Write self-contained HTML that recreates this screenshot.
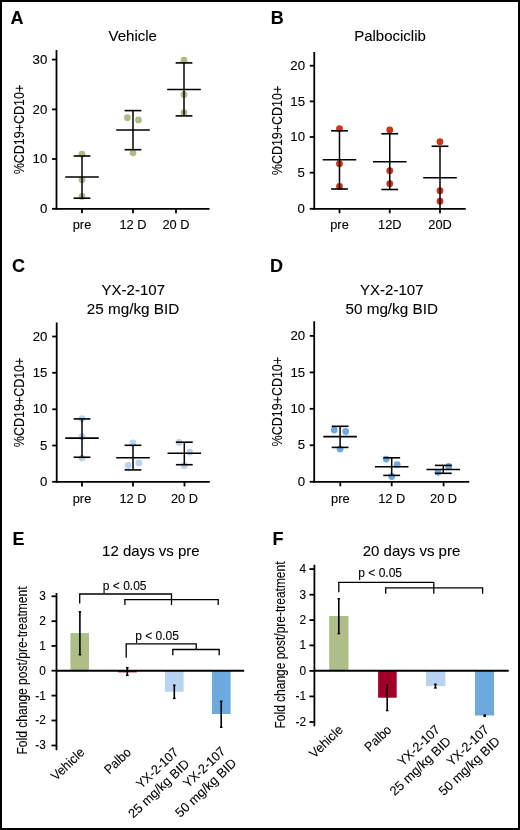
<!DOCTYPE html><html><head><meta charset="utf-8"><style>html,body{margin:0;padding:0;background:#fff}svg{display:block;will-change:transform;font-family:"Liberation Sans",sans-serif}text{stroke:#000;stroke-width:0.1px}</style></head><body>
<svg width="520" height="830" viewBox="0 0 520 830">
<rect x="0" y="0" width="520" height="830" fill="#fff"/>
<text x="132.75" y="41.3" font-size="15" text-anchor="middle" >Vehicle</text>
<text x="10.5" y="23.6" font-size="18" font-weight="bold">A</text>
<text x="0" y="0" font-size="15" text-anchor="middle" textLength="89.5" lengthAdjust="spacingAndGlyphs" transform="translate(24.0,129.55) rotate(-90)">%CD19+CD10+</text>
<circle cx="82" cy="154.2" r="3.4" fill="#adbd87"/>
<circle cx="82" cy="179.8" r="3.4" fill="#adbd87"/>
<circle cx="82" cy="196.5" r="3.4" fill="#adbd87"/>
<circle cx="127.4" cy="117.7" r="3.4" fill="#adbd87"/>
<circle cx="138.5" cy="119.9" r="3.4" fill="#adbd87"/>
<circle cx="133" cy="152.8" r="3.4" fill="#adbd87"/>
<circle cx="184" cy="60.25" r="3.4" fill="#adbd87"/>
<circle cx="184" cy="94.6" r="3.4" fill="#adbd87"/>
<circle cx="184" cy="112.75" r="3.4" fill="#adbd87"/>
<line x1="56.5" y1="50" x2="56.5" y2="209.70000000000002" stroke="#000" stroke-width="1.8"/>
<line x1="55.6" y1="208.8" x2="209.5" y2="208.8" stroke="#000" stroke-width="1.8"/>
<line x1="52.0" y1="208.8" x2="56.5" y2="208.8" stroke="#000" stroke-width="1.8"/>
<text x="0" y="0" font-size="12.5" text-anchor="end" transform="translate(47.3,212.9) scale(1.06,1)" >0</text>
<line x1="52.0" y1="159.0" x2="56.5" y2="159.0" stroke="#000" stroke-width="1.8"/>
<text x="0" y="0" font-size="12.5" text-anchor="end" transform="translate(47.3,163.1) scale(1.06,1)" >10</text>
<line x1="52.0" y1="109.4" x2="56.5" y2="109.4" stroke="#000" stroke-width="1.8"/>
<text x="0" y="0" font-size="12.5" text-anchor="end" transform="translate(47.3,113.5) scale(1.06,1)" >20</text>
<line x1="52.0" y1="59.6" x2="56.5" y2="59.6" stroke="#000" stroke-width="1.8"/>
<text x="0" y="0" font-size="12.5" text-anchor="end" transform="translate(47.3,63.7) scale(1.06,1)" >30</text>
<line x1="82" y1="208.8" x2="82" y2="213.3" stroke="#000" stroke-width="1.8"/>
<text x="0" y="0" font-size="12" text-anchor="middle" transform="translate(82,228.7) scale(1.07,1)" >pre</text>
<line x1="133" y1="208.8" x2="133" y2="213.3" stroke="#000" stroke-width="1.8"/>
<text x="0" y="0" font-size="12" text-anchor="middle" transform="translate(133,228.7) scale(1.07,1)" >12 D</text>
<line x1="176" y1="208.8" x2="176" y2="213.3" stroke="#000" stroke-width="1.8"/>
<text x="0" y="0" font-size="12" text-anchor="middle" transform="translate(176,228.7) scale(1.07,1)" >20 D</text>
<line x1="65.2" y1="177" x2="98.8" y2="177" stroke="#000" stroke-width="1.6"/>
<line x1="82" y1="156" x2="82" y2="198.2" stroke="#000" stroke-width="1.5"/>
<line x1="73.6" y1="156" x2="90.4" y2="156" stroke="#000" stroke-width="1.6"/>
<line x1="73.6" y1="198.2" x2="90.4" y2="198.2" stroke="#000" stroke-width="1.6"/>
<line x1="116.2" y1="130" x2="149.8" y2="130" stroke="#000" stroke-width="1.6"/>
<line x1="133" y1="110.6" x2="133" y2="149.7" stroke="#000" stroke-width="1.5"/>
<line x1="124.6" y1="110.6" x2="141.4" y2="110.6" stroke="#000" stroke-width="1.6"/>
<line x1="124.6" y1="149.7" x2="141.4" y2="149.7" stroke="#000" stroke-width="1.6"/>
<line x1="167.2" y1="89.5" x2="200.8" y2="89.5" stroke="#000" stroke-width="1.6"/>
<line x1="184" y1="62.9" x2="184" y2="115.9" stroke="#000" stroke-width="1.5"/>
<line x1="175.6" y1="62.9" x2="192.4" y2="62.9" stroke="#000" stroke-width="1.6"/>
<line x1="175.6" y1="115.9" x2="192.4" y2="115.9" stroke="#000" stroke-width="1.6"/>
<text x="390" y="40.9" font-size="15" text-anchor="middle" >Palbociclib</text>
<text x="270.7" y="23.6" font-size="18" font-weight="bold">B</text>
<text x="0" y="0" font-size="15" text-anchor="middle" textLength="89.5" lengthAdjust="spacingAndGlyphs" transform="translate(281.8,130.45) rotate(-90)">%CD19+CD10+</text>
<circle cx="339.5" cy="128.7" r="3.4" fill="#c9361a"/>
<circle cx="339.5" cy="163.75" r="3.4" fill="#c9361a"/>
<circle cx="339.5" cy="186.5" r="3.4" fill="#c9361a"/>
<circle cx="389.75" cy="130" r="3.4" fill="#c9361a"/>
<circle cx="389.75" cy="170.75" r="3.4" fill="#c9361a"/>
<circle cx="389.75" cy="183.75" r="3.4" fill="#c9361a"/>
<circle cx="440" cy="141.75" r="3.4" fill="#c9361a"/>
<circle cx="440" cy="190.75" r="3.4" fill="#c9361a"/>
<circle cx="440" cy="201.25" r="3.4" fill="#c9361a"/>
<line x1="314.25" y1="52" x2="314.25" y2="209.70000000000002" stroke="#000" stroke-width="1.8"/>
<line x1="313.35" y1="208.8" x2="465.75" y2="208.8" stroke="#000" stroke-width="1.8"/>
<line x1="309.75" y1="208.8" x2="314.25" y2="208.8" stroke="#000" stroke-width="1.8"/>
<text x="0" y="0" font-size="12.5" text-anchor="end" transform="translate(305,212.9) scale(1.06,1)" >0</text>
<line x1="309.75" y1="172.7" x2="314.25" y2="172.7" stroke="#000" stroke-width="1.8"/>
<text x="0" y="0" font-size="12.5" text-anchor="end" transform="translate(305,176.79999999999998) scale(1.06,1)" >5</text>
<line x1="309.75" y1="137.0" x2="314.25" y2="137.0" stroke="#000" stroke-width="1.8"/>
<text x="0" y="0" font-size="12.5" text-anchor="end" transform="translate(305,141.1) scale(1.06,1)" >10</text>
<line x1="309.75" y1="101.4" x2="314.25" y2="101.4" stroke="#000" stroke-width="1.8"/>
<text x="0" y="0" font-size="12.5" text-anchor="end" transform="translate(305,105.5) scale(1.06,1)" >15</text>
<line x1="309.75" y1="65.7" x2="314.25" y2="65.7" stroke="#000" stroke-width="1.8"/>
<text x="0" y="0" font-size="12.5" text-anchor="end" transform="translate(305,69.8) scale(1.06,1)" >20</text>
<line x1="339.5" y1="208.8" x2="339.5" y2="213.3" stroke="#000" stroke-width="1.8"/>
<text x="0" y="0" font-size="12" text-anchor="middle" transform="translate(339.5,228.7) scale(1.07,1)" >pre</text>
<line x1="389.75" y1="208.8" x2="389.75" y2="213.3" stroke="#000" stroke-width="1.8"/>
<text x="0" y="0" font-size="12" text-anchor="middle" transform="translate(389.75,228.7) scale(1.07,1)" >12D</text>
<line x1="440" y1="208.8" x2="440" y2="213.3" stroke="#000" stroke-width="1.8"/>
<text x="0" y="0" font-size="12" text-anchor="middle" transform="translate(440,228.7) scale(1.07,1)" >20D</text>
<line x1="322.7" y1="159.75" x2="356.3" y2="159.75" stroke="#000" stroke-width="1.6"/>
<line x1="339.5" y1="130.8" x2="339.5" y2="189" stroke="#000" stroke-width="1.5"/>
<line x1="331.1" y1="130.8" x2="347.9" y2="130.8" stroke="#000" stroke-width="1.6"/>
<line x1="331.1" y1="189" x2="347.9" y2="189" stroke="#000" stroke-width="1.6"/>
<line x1="372.95" y1="161.75" x2="406.55" y2="161.75" stroke="#000" stroke-width="1.6"/>
<line x1="389.75" y1="133.75" x2="389.75" y2="189.5" stroke="#000" stroke-width="1.5"/>
<line x1="381.35" y1="133.75" x2="398.15" y2="133.75" stroke="#000" stroke-width="1.6"/>
<line x1="381.35" y1="189.5" x2="398.15" y2="189.5" stroke="#000" stroke-width="1.6"/>
<line x1="423.2" y1="177.75" x2="456.8" y2="177.75" stroke="#000" stroke-width="1.6"/>
<line x1="440" y1="146.25" x2="440" y2="208.5" stroke="#000" stroke-width="1.5"/>
<line x1="431.6" y1="146.25" x2="448.4" y2="146.25" stroke="#000" stroke-width="1.6"/>
<text x="133.3" y="295.2" font-size="15" text-anchor="middle" >YX-2-107</text>
<text x="133" y="314" font-size="15" text-anchor="middle" textLength="92.5" lengthAdjust="spacingAndGlyphs">25 mg/kg BID</text>
<text x="12" y="272" font-size="18" font-weight="bold">C</text>
<text x="0" y="0" font-size="15" text-anchor="middle" textLength="89.5" lengthAdjust="spacingAndGlyphs" transform="translate(24.1,402.4) rotate(-90)">%CD19+CD10+</text>
<circle cx="82" cy="418.75" r="3.4" fill="#b9d4f1"/>
<circle cx="82" cy="436.9" r="3.4" fill="#b9d4f1"/>
<circle cx="82" cy="458.1" r="3.4" fill="#b9d4f1"/>
<circle cx="133" cy="442.9" r="3.4" fill="#b9d4f1"/>
<circle cx="128.2" cy="465.4" r="3.4" fill="#b9d4f1"/>
<circle cx="139" cy="463" r="3.4" fill="#b9d4f1"/>
<circle cx="179.1" cy="442.5" r="3.4" fill="#b9d4f1"/>
<circle cx="189.8" cy="452.2" r="3.4" fill="#b9d4f1"/>
<circle cx="184.3" cy="465.7" r="3.4" fill="#b9d4f1"/>
<line x1="56.7" y1="322.5" x2="56.7" y2="482.79999999999995" stroke="#000" stroke-width="1.8"/>
<line x1="55.800000000000004" y1="481.9" x2="209.8" y2="481.9" stroke="#000" stroke-width="1.8"/>
<line x1="52.2" y1="481.8" x2="56.7" y2="481.8" stroke="#000" stroke-width="1.8"/>
<text x="0" y="0" font-size="12.5" text-anchor="end" transform="translate(47.4,485.90000000000003) scale(1.06,1)" >0</text>
<line x1="52.2" y1="445.5" x2="56.7" y2="445.5" stroke="#000" stroke-width="1.8"/>
<text x="0" y="0" font-size="12.5" text-anchor="end" transform="translate(47.4,449.6) scale(1.06,1)" >5</text>
<line x1="52.2" y1="409.3" x2="56.7" y2="409.3" stroke="#000" stroke-width="1.8"/>
<text x="0" y="0" font-size="12.5" text-anchor="end" transform="translate(47.4,413.40000000000003) scale(1.06,1)" >10</text>
<line x1="52.2" y1="372.8" x2="56.7" y2="372.8" stroke="#000" stroke-width="1.8"/>
<text x="0" y="0" font-size="12.5" text-anchor="end" transform="translate(47.4,376.90000000000003) scale(1.06,1)" >15</text>
<line x1="52.2" y1="336.5" x2="56.7" y2="336.5" stroke="#000" stroke-width="1.8"/>
<text x="0" y="0" font-size="12.5" text-anchor="end" transform="translate(47.4,340.6) scale(1.06,1)" >20</text>
<line x1="82" y1="481.9" x2="82" y2="486.4" stroke="#000" stroke-width="1.8"/>
<text x="0" y="0" font-size="12" text-anchor="middle" transform="translate(82,502.6) scale(1.07,1)" >pre</text>
<line x1="133" y1="481.9" x2="133" y2="486.4" stroke="#000" stroke-width="1.8"/>
<text x="0" y="0" font-size="12" text-anchor="middle" transform="translate(133,502.6) scale(1.07,1)" >12 D</text>
<line x1="184.5" y1="481.9" x2="184.5" y2="486.4" stroke="#000" stroke-width="1.8"/>
<text x="0" y="0" font-size="12" text-anchor="middle" transform="translate(184.5,502.6) scale(1.07,1)" >20 D</text>
<line x1="65.2" y1="438.1" x2="98.8" y2="438.1" stroke="#000" stroke-width="1.6"/>
<line x1="82" y1="418.9" x2="82" y2="457.25" stroke="#000" stroke-width="1.5"/>
<line x1="73.6" y1="418.9" x2="90.4" y2="418.9" stroke="#000" stroke-width="1.6"/>
<line x1="73.6" y1="457.25" x2="90.4" y2="457.25" stroke="#000" stroke-width="1.6"/>
<line x1="116.2" y1="457.8" x2="149.8" y2="457.8" stroke="#000" stroke-width="1.6"/>
<line x1="133" y1="445.3" x2="133" y2="469.9" stroke="#000" stroke-width="1.5"/>
<line x1="124.6" y1="445.3" x2="141.4" y2="445.3" stroke="#000" stroke-width="1.6"/>
<line x1="124.6" y1="469.9" x2="141.4" y2="469.9" stroke="#000" stroke-width="1.6"/>
<line x1="167.5" y1="453.3" x2="201.10000000000002" y2="453.3" stroke="#000" stroke-width="1.6"/>
<line x1="184.3" y1="442.2" x2="184.3" y2="464.7" stroke="#000" stroke-width="1.5"/>
<line x1="175.9" y1="442.2" x2="192.70000000000002" y2="442.2" stroke="#000" stroke-width="1.6"/>
<line x1="175.9" y1="464.7" x2="192.70000000000002" y2="464.7" stroke="#000" stroke-width="1.6"/>
<text x="391.8" y="295.4" font-size="15" text-anchor="middle" >YX-2-107</text>
<text x="391.7" y="313.9" font-size="15" text-anchor="middle" textLength="92.5" lengthAdjust="spacingAndGlyphs">50 mg/kg BID</text>
<text x="270" y="272" font-size="18" font-weight="bold">D</text>
<text x="0" y="0" font-size="15" text-anchor="middle" textLength="89.5" lengthAdjust="spacingAndGlyphs" transform="translate(281.8,401.65) rotate(-90)">%CD19+CD10+</text>
<circle cx="334.2" cy="430" r="3.4" fill="#6caade"/>
<circle cx="345.7" cy="431.5" r="3.4" fill="#6caade"/>
<circle cx="340.1" cy="449.1" r="3.4" fill="#6caade"/>
<circle cx="386.2" cy="459.1" r="3.4" fill="#6caade"/>
<circle cx="397.2" cy="464.7" r="3.4" fill="#6caade"/>
<circle cx="391.7" cy="476.5" r="3.4" fill="#6caade"/>
<circle cx="438" cy="472.3" r="3.4" fill="#6caade"/>
<circle cx="448.8" cy="466.4" r="3.4" fill="#6caade"/>
<line x1="314.2" y1="321.25" x2="314.2" y2="482.7" stroke="#000" stroke-width="1.8"/>
<line x1="313.3" y1="481.8" x2="469.2" y2="481.8" stroke="#000" stroke-width="1.8"/>
<line x1="309.7" y1="481.8" x2="314.2" y2="481.8" stroke="#000" stroke-width="1.8"/>
<text x="0" y="0" font-size="12.5" text-anchor="end" transform="translate(305.2,485.90000000000003) scale(1.06,1)" >0</text>
<line x1="309.7" y1="445.3" x2="314.2" y2="445.3" stroke="#000" stroke-width="1.8"/>
<text x="0" y="0" font-size="12.5" text-anchor="end" transform="translate(305.2,449.40000000000003) scale(1.06,1)" >5</text>
<line x1="309.7" y1="408.8" x2="314.2" y2="408.8" stroke="#000" stroke-width="1.8"/>
<text x="0" y="0" font-size="12.5" text-anchor="end" transform="translate(305.2,412.90000000000003) scale(1.06,1)" >10</text>
<line x1="309.7" y1="372.4" x2="314.2" y2="372.4" stroke="#000" stroke-width="1.8"/>
<text x="0" y="0" font-size="12.5" text-anchor="end" transform="translate(305.2,376.5) scale(1.06,1)" >15</text>
<line x1="309.7" y1="335.9" x2="314.2" y2="335.9" stroke="#000" stroke-width="1.8"/>
<text x="0" y="0" font-size="12.5" text-anchor="end" transform="translate(305.2,340.0) scale(1.06,1)" >20</text>
<line x1="340.3" y1="481.8" x2="340.3" y2="486.3" stroke="#000" stroke-width="1.8"/>
<text x="0" y="0" font-size="12" text-anchor="middle" transform="translate(340.3,502.6) scale(1.07,1)" >pre</text>
<line x1="391.7" y1="481.8" x2="391.7" y2="486.3" stroke="#000" stroke-width="1.8"/>
<text x="0" y="0" font-size="12" text-anchor="middle" transform="translate(391.7,502.6) scale(1.07,1)" >12 D</text>
<line x1="443.6" y1="481.8" x2="443.6" y2="486.3" stroke="#000" stroke-width="1.8"/>
<text x="0" y="0" font-size="12" text-anchor="middle" transform="translate(443.6,502.6) scale(1.07,1)" >20 D</text>
<line x1="323.3" y1="436.6" x2="356.90000000000003" y2="436.6" stroke="#000" stroke-width="1.6"/>
<line x1="340.1" y1="426.3" x2="340.1" y2="447.4" stroke="#000" stroke-width="1.5"/>
<line x1="331.70000000000005" y1="426.3" x2="348.5" y2="426.3" stroke="#000" stroke-width="1.6"/>
<line x1="331.70000000000005" y1="447.4" x2="348.5" y2="447.4" stroke="#000" stroke-width="1.6"/>
<line x1="374.9" y1="466.8" x2="408.5" y2="466.8" stroke="#000" stroke-width="1.6"/>
<line x1="391.7" y1="457.8" x2="391.7" y2="475.4" stroke="#000" stroke-width="1.5"/>
<line x1="383.3" y1="457.8" x2="400.09999999999997" y2="457.8" stroke="#000" stroke-width="1.6"/>
<line x1="383.3" y1="475.4" x2="400.09999999999997" y2="475.4" stroke="#000" stroke-width="1.6"/>
<line x1="426.5" y1="469.5" x2="460.1" y2="469.5" stroke="#000" stroke-width="1.6"/>
<line x1="443.3" y1="465.4" x2="443.3" y2="473.3" stroke="#000" stroke-width="1.5"/>
<line x1="434.90000000000003" y1="465.4" x2="451.7" y2="465.4" stroke="#000" stroke-width="1.6"/>
<line x1="434.90000000000003" y1="473.3" x2="451.7" y2="473.3" stroke="#000" stroke-width="1.6"/>
<text x="12.5" y="545" font-size="18" font-weight="bold">E</text>
<text x="150.9" y="555.8" font-size="15" text-anchor="middle" >12 days vs pre</text>
<text x="0" y="0" font-size="14.5" text-anchor="middle" textLength="168" lengthAdjust="spacingAndGlyphs" transform="translate(27.3,670.5) rotate(-90)">Fold change post/pre-treatment</text>
<rect x="70.4" y="633.1" width="18.60" height="37.70" fill="#afbd87"/>
<rect x="118.0" y="670.8" width="18.80" height="1.60" fill="#b0102f"/>
<rect x="164.9" y="670.8" width="18.70" height="21.00" fill="#b9d4f1"/>
<rect x="212" y="670.8" width="18.60" height="43.20" fill="#6caade"/>
<line x1="79.9" y1="611.8" x2="79.9" y2="654.7" stroke="#000" stroke-width="1.6"/>
<line x1="78.60000000000001" y1="611.8" x2="81.2" y2="611.8" stroke="#000" stroke-width="1.4"/>
<line x1="78.60000000000001" y1="654.7" x2="81.2" y2="654.7" stroke="#000" stroke-width="1.4"/>
<line x1="127.3" y1="667.7" x2="127.3" y2="675.4" stroke="#000" stroke-width="1.6"/>
<line x1="126.0" y1="667.7" x2="128.6" y2="667.7" stroke="#000" stroke-width="1.4"/>
<line x1="126.0" y1="675.4" x2="128.6" y2="675.4" stroke="#000" stroke-width="1.4"/>
<line x1="174.3" y1="685.2" x2="174.3" y2="698.4" stroke="#000" stroke-width="1.6"/>
<line x1="173.0" y1="685.2" x2="175.60000000000002" y2="685.2" stroke="#000" stroke-width="1.4"/>
<line x1="173.0" y1="698.4" x2="175.60000000000002" y2="698.4" stroke="#000" stroke-width="1.4"/>
<line x1="221.2" y1="701.3" x2="221.2" y2="727.3" stroke="#000" stroke-width="1.6"/>
<line x1="219.89999999999998" y1="701.3" x2="222.5" y2="701.3" stroke="#000" stroke-width="1.4"/>
<line x1="219.89999999999998" y1="727.3" x2="222.5" y2="727.3" stroke="#000" stroke-width="1.4"/>
<line x1="56.5" y1="593" x2="56.5" y2="750.2" stroke="#000" stroke-width="1.8"/>
<line x1="56.5" y1="670.8" x2="244.2" y2="670.8" stroke="#000" stroke-width="2"/>
<line x1="51.5" y1="596.3" x2="56.5" y2="596.3" stroke="#000" stroke-width="1.8"/>
<text x="0" y="0" font-size="12.5" text-anchor="end" transform="translate(45.8,600.1999999999999) scale(0.95,1)" >3</text>
<line x1="51.5" y1="621.2" x2="56.5" y2="621.2" stroke="#000" stroke-width="1.8"/>
<text x="0" y="0" font-size="12.5" text-anchor="end" transform="translate(45.8,625.1) scale(0.95,1)" >2</text>
<line x1="51.5" y1="645.9" x2="56.5" y2="645.9" stroke="#000" stroke-width="1.8"/>
<text x="0" y="0" font-size="12.5" text-anchor="end" transform="translate(45.8,649.8) scale(0.95,1)" >1</text>
<line x1="51.5" y1="670.7" x2="56.5" y2="670.7" stroke="#000" stroke-width="1.8"/>
<text x="0" y="0" font-size="12.5" text-anchor="end" transform="translate(45.8,674.6) scale(0.95,1)" >0</text>
<line x1="51.5" y1="695.6" x2="56.5" y2="695.6" stroke="#000" stroke-width="1.8"/>
<text x="0" y="0" font-size="12.5" text-anchor="end" transform="translate(45.8,699.5) scale(0.95,1)" >-1</text>
<line x1="51.5" y1="720.5" x2="56.5" y2="720.5" stroke="#000" stroke-width="1.8"/>
<text x="0" y="0" font-size="12.5" text-anchor="end" transform="translate(45.8,724.4) scale(0.95,1)" >-2</text>
<line x1="51.5" y1="745.5" x2="56.5" y2="745.5" stroke="#000" stroke-width="1.8"/>
<text x="0" y="0" font-size="12.5" text-anchor="end" transform="translate(45.8,749.4) scale(0.95,1)" >-3</text>
<path d="M79.7,603.5 V594.0 H171.5 V605" fill="none" stroke="#000" stroke-width="1.3"/>
<path d="M124.9,605 V599.7 H218.2 V605" fill="none" stroke="#000" stroke-width="1.3"/>
<path d="M126.2,657.8 V643.8 H196.2 V649.5" fill="none" stroke="#000" stroke-width="1.3"/>
<path d="M172.8,655.2 V649.5 H219.2 V655.2" fill="none" stroke="#000" stroke-width="1.3"/>
<text x="124.7" y="590" font-size="12" text-anchor="middle" >p &lt; 0.05</text>
<text x="157" y="640" font-size="12" text-anchor="middle" >p &lt; 0.05</text>
<g transform="translate(85.4,753.3) rotate(-43.5)"><text x="-40.70" y="0" font-size="13" textLength="40.7" lengthAdjust="spacingAndGlyphs">Vehicle</text></g>
<g transform="translate(131.9,753.3) rotate(-43.5)"><text x="-31.30" y="0" font-size="13" textLength="31.3" lengthAdjust="spacingAndGlyphs">Palbo</text></g>
<g transform="translate(179.3,753.2) rotate(-43.5)"><text x="-52.50" y="0" font-size="13" textLength="52.5" lengthAdjust="spacingAndGlyphs">YX-2-107</text><text x="-78.50" y="16" font-size="13" textLength="78.5" lengthAdjust="spacingAndGlyphs">25 mg/kg BID</text></g>
<g transform="translate(226.3,752.4) rotate(-43.5)"><text x="-52.50" y="0" font-size="13" textLength="52.5" lengthAdjust="spacingAndGlyphs">YX-2-107</text><text x="-78.50" y="16" font-size="13" textLength="78.5" lengthAdjust="spacingAndGlyphs">50 mg/kg BID</text></g>
<text x="272.5" y="545" font-size="18" font-weight="bold">F</text>
<text x="411.5" y="555.8" font-size="15" text-anchor="middle" >20 days vs pre</text>
<text x="0" y="0" font-size="14.5" text-anchor="middle" textLength="167" lengthAdjust="spacingAndGlyphs" transform="translate(285.2,645) rotate(-90)">Fold change post/pre-treatment</text>
<rect x="329.2" y="616.0" width="19.30" height="54.80" fill="#afbd87"/>
<rect x="378.1" y="670.8" width="18.60" height="26.90" fill="#a30028"/>
<rect x="426" y="670.8" width="19.40" height="15.30" fill="#b9d4f1"/>
<rect x="475" y="670.8" width="19.10" height="44.70" fill="#6caade"/>
<line x1="338.8" y1="598.8" x2="338.8" y2="633.6" stroke="#000" stroke-width="1.6"/>
<line x1="337.5" y1="598.8" x2="340.1" y2="598.8" stroke="#000" stroke-width="1.4"/>
<line x1="337.5" y1="633.6" x2="340.1" y2="633.6" stroke="#000" stroke-width="1.4"/>
<line x1="387.2" y1="685" x2="387.2" y2="710.6" stroke="#000" stroke-width="1.6"/>
<line x1="385.9" y1="685" x2="388.5" y2="685" stroke="#000" stroke-width="1.4"/>
<line x1="385.9" y1="710.6" x2="388.5" y2="710.6" stroke="#000" stroke-width="1.4"/>
<line x1="435.4" y1="684.2" x2="435.4" y2="688" stroke="#000" stroke-width="1.6"/>
<line x1="434.09999999999997" y1="684.2" x2="436.7" y2="684.2" stroke="#000" stroke-width="1.4"/>
<line x1="434.09999999999997" y1="688" x2="436.7" y2="688" stroke="#000" stroke-width="1.4"/>
<line x1="484.7" y1="715.0" x2="484.7" y2="716.3" stroke="#000" stroke-width="1.6"/>
<line x1="483.4" y1="715.0" x2="486.0" y2="715.0" stroke="#000" stroke-width="1.4"/>
<line x1="483.4" y1="716.3" x2="486.0" y2="716.3" stroke="#000" stroke-width="1.4"/>
<line x1="314.4" y1="564.8" x2="314.4" y2="726.3" stroke="#000" stroke-width="1.8"/>
<line x1="314.4" y1="670.8" x2="508.7" y2="670.8" stroke="#000" stroke-width="2"/>
<line x1="309.4" y1="569.1" x2="314.4" y2="569.1" stroke="#000" stroke-width="1.8"/>
<text x="0" y="0" font-size="12.5" text-anchor="end" transform="translate(306,573.0) scale(0.95,1)" >4</text>
<line x1="309.4" y1="594.7" x2="314.4" y2="594.7" stroke="#000" stroke-width="1.8"/>
<text x="0" y="0" font-size="12.5" text-anchor="end" transform="translate(306,598.6) scale(0.95,1)" >3</text>
<line x1="309.4" y1="620.1" x2="314.4" y2="620.1" stroke="#000" stroke-width="1.8"/>
<text x="0" y="0" font-size="12.5" text-anchor="end" transform="translate(306,624.0) scale(0.95,1)" >2</text>
<line x1="309.4" y1="645.4" x2="314.4" y2="645.4" stroke="#000" stroke-width="1.8"/>
<text x="0" y="0" font-size="12.5" text-anchor="end" transform="translate(306,649.3) scale(0.95,1)" >1</text>
<line x1="309.4" y1="670.9" x2="314.4" y2="670.9" stroke="#000" stroke-width="1.8"/>
<text x="0" y="0" font-size="12.5" text-anchor="end" transform="translate(306,674.8) scale(0.95,1)" >0</text>
<line x1="309.4" y1="696.4" x2="314.4" y2="696.4" stroke="#000" stroke-width="1.8"/>
<text x="0" y="0" font-size="12.5" text-anchor="end" transform="translate(306,700.3) scale(0.95,1)" >-1</text>
<line x1="309.4" y1="722" x2="314.4" y2="722" stroke="#000" stroke-width="1.8"/>
<text x="0" y="0" font-size="12.5" text-anchor="end" transform="translate(306,725.9) scale(0.95,1)" >-2</text>
<path d="M338.8,592.3 V582.4 H433.8 V593.8" fill="none" stroke="#000" stroke-width="1.3"/>
<path d="M385.7,593.8 V587.9 H482.6 V593.8" fill="none" stroke="#000" stroke-width="1.3"/>
<text x="380.2" y="576.5" font-size="12" text-anchor="middle" >p &lt; 0.05</text>
<g transform="translate(343.8,730.7) rotate(-43.5)"><text x="-40.70" y="0" font-size="13" textLength="40.7" lengthAdjust="spacingAndGlyphs">Vehicle</text></g>
<g transform="translate(392.3,730.7) rotate(-43.5)"><text x="-31.30" y="0" font-size="13" textLength="31.3" lengthAdjust="spacingAndGlyphs">Palbo</text></g>
<g transform="translate(440.8,730.7) rotate(-43.5)"><text x="-52.50" y="0" font-size="13" textLength="52.5" lengthAdjust="spacingAndGlyphs">YX-2-107</text><text x="-78.50" y="16" font-size="13" textLength="78.5" lengthAdjust="spacingAndGlyphs">25 mg/kg BID</text></g>
<g transform="translate(489.8,730.7) rotate(-43.5)"><text x="-52.50" y="0" font-size="13" textLength="52.5" lengthAdjust="spacingAndGlyphs">YX-2-107</text><text x="-78.50" y="16" font-size="13" textLength="78.5" lengthAdjust="spacingAndGlyphs">50 mg/kg BID</text></g>
<rect x="1" y="1" width="518" height="828" fill="none" stroke="#000" stroke-width="2"/>
</svg></body></html>
